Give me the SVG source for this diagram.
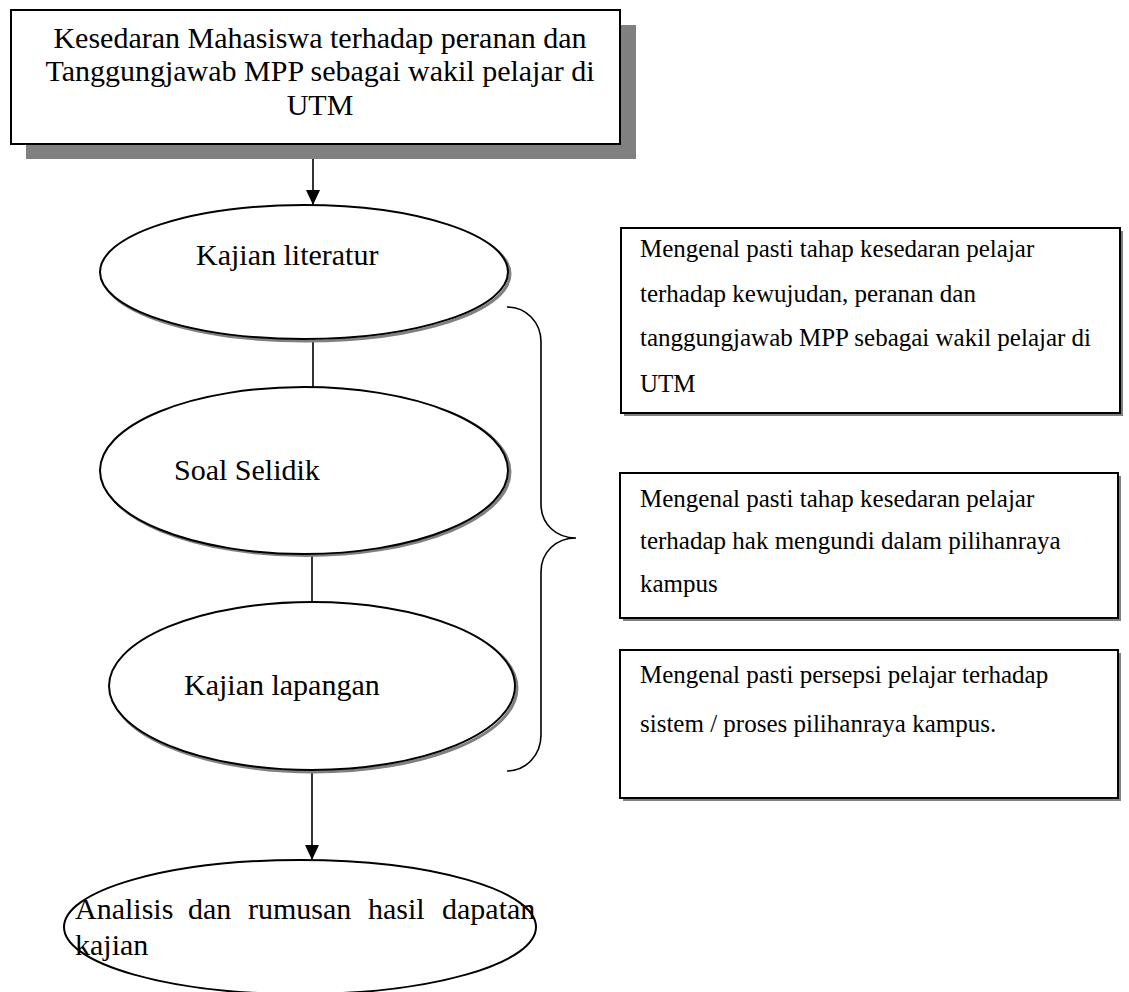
<svg xmlns="http://www.w3.org/2000/svg" width="1129" height="992" viewBox="0 0 1129 992">
<style>
text{font-family:"Liberation Serif","Times New Roman",serif;fill:#000}
.big{font-size:30px}
.small{font-size:25px}
.box{fill:#fff;stroke:#000;stroke-width:2}
.shadow{fill:#808080}
.ell{fill:#fff;stroke:#000;stroke-width:2}
.eshadow{fill:none;stroke:#808080;stroke-width:3}
.conn{fill:none;stroke:#000;stroke-width:1.6}
</style>
<defs>
<marker id="arrow" viewBox="0 0 15 14" refX="15" refY="7" markerWidth="15" markerHeight="14" markerUnits="userSpaceOnUse" orient="auto">
<path d="M0,0 L15,7 L0,14 Z" fill="#000"/>
</marker>
</defs>
<rect width="1129" height="992" fill="#fff"/>

<g id="connectors">
<line class="conn" x1="313" y1="145" x2="313" y2="205" marker-end="url(#arrow)"/>
<line class="conn" x1="313" y1="339" x2="313" y2="387"/>
<line class="conn" x1="312" y1="554" x2="312" y2="602"/>
<line class="conn" x1="312" y1="770" x2="312" y2="860" marker-end="url(#arrow)"/>
<path class="conn" d="M507,307 C526,307 541,322 541,342 L541,504 C541,524 556,538 576,538 C556,538 541,552 541,572 L541,735 C541,755 526,771 507,771" stroke-width="2"/>
</g>

<g id="top">
<rect class="shadow" x="26" y="25" width="610" height="134"/>
<rect class="box" x="11" y="10" width="609" height="134"/>
<text class="big" text-anchor="middle" x="320" y="48">Kesedaran Mahasiswa terhadap peranan dan</text>
<text class="big" text-anchor="middle" x="320" y="81">Tanggungjawab MPP sebagai wakil pelajar di</text>
<text class="big" text-anchor="middle" x="320" y="115">UTM</text>
</g>

<g id="literatur">
<ellipse class="eshadow" cx="306" cy="274" rx="204" ry="67"/>
<ellipse class="ell" cx="304" cy="272" rx="204" ry="67"/>
<text class="big" x="196" y="265">Kajian literatur</text>
</g>

<g id="soal">
<ellipse class="eshadow" cx="306" cy="472" rx="204" ry="83.5"/>
<ellipse class="ell" cx="304" cy="470.5" rx="204" ry="83.5"/>
<text class="big" x="174" y="480">Soal Selidik</text>
</g>

<g id="lapangan">
<ellipse class="eshadow" cx="314" cy="688" rx="203" ry="84"/>
<ellipse class="ell" cx="312" cy="686" rx="203" ry="84"/>
<text class="big" x="184" y="695">Kajian lapangan</text>
</g>

<g id="analisis">
<ellipse class="ell" cx="300" cy="927" rx="236" ry="67"/>
<text class="big" y="919"><tspan x="75">Analisis</tspan><tspan x="188">dan</tspan><tspan x="248">rumusan</tspan><tspan x="368">hasil</tspan><tspan x="442">dapatan</tspan></text>
<text class="big" x="75" y="955">kajian</text>
</g>

<g id="boxA">
<rect class="shadow" x="624" y="231" width="499" height="185"/>
<rect class="box" x="621" y="228" width="499" height="185"/>
<text class="small" x="640" y="257">Mengenal pasti tahap kesedaran pelajar</text>
<text class="small" x="640" y="302">terhadap kewujudan, peranan dan</text>
<text class="small" x="640" y="346">tanggungjawab MPP sebagai wakil pelajar di</text>
<text class="small" x="640" y="392">UTM</text>
</g>

<g id="boxB">
<rect class="shadow" x="623" y="476" width="498" height="145"/>
<rect class="box" x="620" y="473" width="498" height="145"/>
<text class="small" x="640" y="507">Mengenal pasti tahap kesedaran pelajar</text>
<text class="small" x="640" y="549">terhadap hak mengundi dalam pilihanraya</text>
<text class="small" x="640" y="592">kampus</text>
</g>

<g id="boxC">
<rect class="shadow" x="623" y="653" width="498" height="148"/>
<rect class="box" x="620" y="650" width="498" height="148"/>
<text class="small" x="640" y="683">Mengenal pasti persepsi pelajar terhadap</text>
<text class="small" x="640" y="732">sistem / proses pilihanraya kampus.</text>
</g>
</svg>
